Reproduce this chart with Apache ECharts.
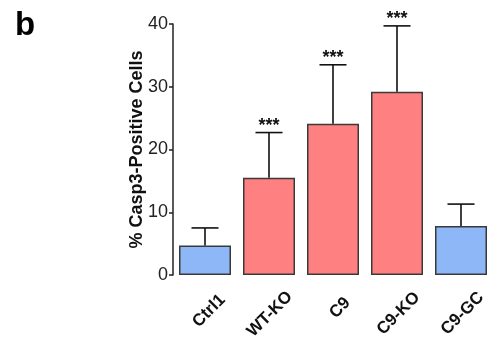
<!DOCTYPE html>
<html>
<head>
<meta charset="utf-8">
<script src="https://cdn.jsdelivr.net/npm/echarts@6/dist/echarts.min.js"></script>
<style>
  html, body { margin: 0; padding: 0; background: #fff; }
  #main { width: 489px; height: 340px; }
</style>
</head>
<body>
<div id="main"></div>
<script>
// categories and values
const groups = ['Ctrl1', 'WT-KO', 'C9', 'C9-KO', 'C9-GC'];
const meanVals = [4.7, 15.5, 24.1, 29.2, 7.8];
const sdVals = [2.8, 7.2, 9.4, 10.5, 3.5];
const signif = ['', '***', '***', '***', ''];
const yTicks = [0, 10, 20, 30, 40];

const BLUE = '#8db7f6';
const RED = '#ff8080';
const barColors = [BLUE, RED, RED, RED, BLUE];

const FONT = '"Liberation Sans", Arial, Helvetica, sans-serif';
const labelSize = 17;

// rotated labels: centred on the tick with their tops lined up,
// so push each one up by its own length (padding trick)
const ctx = document.createElement('canvas').getContext('2d');
ctx.font = 'bold ' + labelSize + 'px ' + FONT;
const labelMargin = 40;
const labelTop = 14; // px below the axis where the rotated labels start
const catData = groups.map(g => {
  const w = ctx.measureText(g).width;
  const cy = labelTop + 0.354 * (w + 12);
  const p = Math.max(0, (labelMargin - cy) / 0.707);
  return {
    value: g,
    textStyle: { align: 'center', verticalAlign: 'middle', padding: [0, 0, p, p] }
  };
});

const chart = echarts.init(document.getElementById('main'));

const option = {
  animation: false,
  title: {
    text: 'b',
    left: 10,
    top: 4,
    textStyle: { fontFamily: FONT, fontSize: 33, fontWeight: 'bold', color: '#000' }
  },
  grid: {
    left: 173,
    top: 24,
    width: 320,
    bottom: 65,
    outerBoundsMode: 'none'
  },
  xAxis: {
    type: 'category',
    data: catData,
    axisLine: { show: false },
    axisTick: { show: false },
    axisLabel: {
      interval: 0,
      rotate: 45,
      align: 'center',
      verticalAlign: 'middle',
      margin: labelMargin,
      fontFamily: FONT,
      fontSize: labelSize,
      fontWeight: 'bold',
      color: '#111'
    }
  },
  yAxis: {
    type: 'value',
    min: yTicks[0],
    max: yTicks[yTicks.length - 1],
    interval: 10,
    name: '% Casp3-Positive Cells',
    nameLocation: 'middle',
    nameGap: 27,
    nameMoveOverlap: false,
    nameTextStyle: { fontFamily: FONT, fontSize: 18, fontWeight: 'bold', color: '#111' },
    splitLine: { show: false },
    axisLine: { show: true, lineStyle: { color: '#222', width: 1.5 } },
    axisTick: { show: true, length: 4, lineStyle: { color: '#222', width: 1.5 } },
    axisLabel: { margin: 5, fontFamily: FONT, fontSize: 18, color: '#222' }
  },
  series: [
    {
      type: 'bar',
      data: meanVals,
      barWidth: 52,
      itemStyle: {
        color: p => barColors[p.dataIndex],
        borderColor: '#3a3a3a',
        borderWidth: 1.5
      },
      z: 2
    },
    {
      type: 'custom',
      data: meanVals.map((m, i) => [i, m, m + sdVals[i]]),
      z: 3,
      renderItem: (params, api) => {
        const i = api.value(0);
        const base = api.coord([i, api.value(1)]);
        const top = api.coord([i, api.value(2)]);
        const half = 13.5;
        const st = { stroke: '#111', lineWidth: 1.6 };
        const children = [
          { type: 'line', shape: { x1: base[0], y1: base[1], x2: top[0], y2: top[1] }, style: st },
          { type: 'line', shape: { x1: top[0] - half, y1: top[1], x2: top[0] + half, y2: top[1] }, style: st }
        ];
        if (signif[params.dataIndex]) {
          children.push({
            type: 'text',
            style: {
              text: signif[params.dataIndex],
              x: top[0],
              y: top[1] - 7,
              align: 'center',
              verticalAlign: 'middle',
              font: 'bold 18px ' + FONT,
              fill: '#111'
            }
          });
        }
        return { type: 'group', children: children };
      }
    }
  ]
};

chart.setOption(option);
</script>
</body>
</html>
